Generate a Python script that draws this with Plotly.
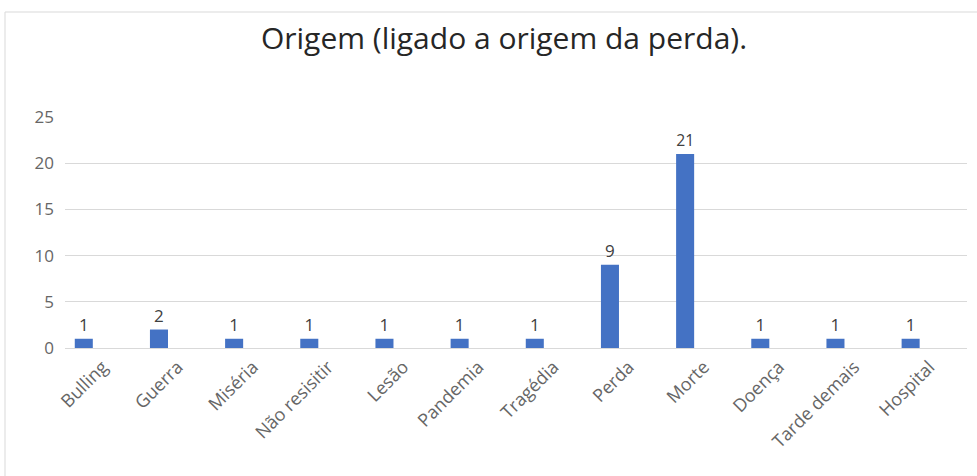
import plotly.graph_objects as go

categories = ["Bulling", "Guerra", "Miséria", "Não resisitir", "Lesão", "Pandemia",
              "Tragédia", "Perda", "Morte", "Doença", "Tarde demais", "Hospital"]
values = [1, 2, 1, 1, 1, 1, 1, 9, 21, 1, 1, 1]
y_ticks = [0, 5, 10, 15, 20, 25]
title_text = "Origem (ligado a origem da perda)."

W, H = 977, 476
ml, mr, mt, mb = 65, 10, 117, 128
pw, ph = W - ml - mr, H - mt - mb

def px_to_paper_x(px):
    return (px - ml) / pw

def py_to_paper_y(py):
    return (H - mb - py) / ph

fig = go.Figure(go.Bar(
    x=categories,
    y=values,
    width=0.24,
    offset=-0.37,
    marker=dict(color="#4472C4", line=dict(width=0)),
    text=[str(v) for v in values],
    textposition="outside",
    cliponaxis=False,
    textfont=dict(family="Open Sans", size=17, color="#404040"),
))

fig.update_layout(
    width=W, height=H,
    margin=dict(l=ml, r=mr, t=mt, b=mb, autoexpand=False),
    paper_bgcolor="white", plot_bgcolor="white",
    showlegend=False,
    title=dict(text=title_text, x=504 / W, xref="container", xanchor="center",
               y=1 - 38 / H, yref="container", yanchor="middle",
               font=dict(family="Open Sans", size=30, color="#262626")),
    xaxis=dict(
        type="category",
        range=[-0.5, 11.5],
        tickangle=-45, showgrid=False, zeroline=False,
        showline=False, ticks="", automargin=False,
        tickfont=dict(family="Open Sans", size=18, color="#666666"),
        ticklabelstandoff=4,
    ),
    yaxis=dict(
        range=[0, 25], tickmode="array", tickvals=y_ticks,
        showgrid=True, gridcolor="#D9D9D9", gridwidth=1,
        zeroline=True, zerolinecolor="#D9D9D9", zerolinewidth=1,
        showline=False, ticks="", automargin=False,
        tickfont=dict(family="Open Sans", size=17, color="#666666"),
        ticklabelstandoff=10,
    ),
    shapes=[dict(type="rect", xref="paper", yref="paper",
                 x0=px_to_paper_x(5), x1=px_to_paper_x(990),
                 y0=py_to_paper_y(490), y1=py_to_paper_y(12),
                 line=dict(color="#D9D9D9", width=1), fillcolor="rgba(0,0,0,0)",
                 layer="below")],
)

fig.write_html("out.html",
               config={"displayModeBar": False},
               post_script="document.body.style.margin='0';document.body.style.overflow='hidden';")
